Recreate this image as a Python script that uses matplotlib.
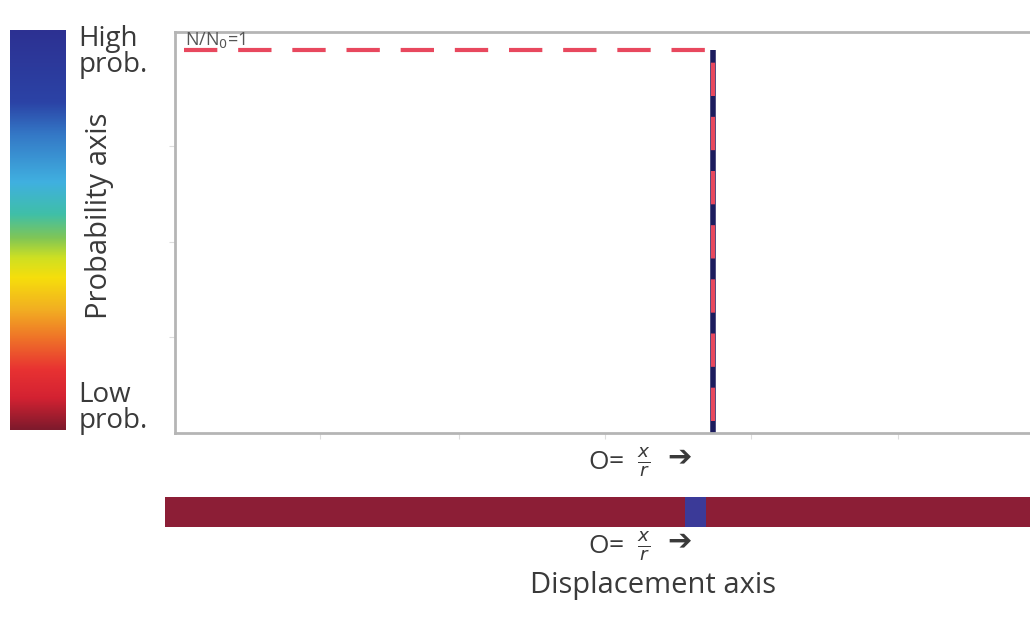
import numpy as np
import matplotlib
matplotlib.use("Agg")
from matplotlib import pyplot as plt
from matplotlib.colors import LinearSegmentedColormap

# displacement grid (fraction of axis) and probability at each bin
n_bins = 40
peak_bin = 24
displacement = (np.arange(n_bins) + 0.5) / n_bins
probability = np.zeros(n_bins)
probability[peak_bin] = 1.0

# delta-like distribution drawn in the main panel
peak_pos = 0.626
line_x = [peak_pos, peak_pos]
line_y = [0.0, 1.0]
ref_x = [0.01, peak_pos, peak_pos]
ref_y = [1.0, 1.0, 0.0]
ref_label = "N/N$_0$=1"

# colour scale, low -> high
cmap_pos = [0.0, 0.08, 0.15, 0.23, 0.30, 0.38, 0.43, 0.48, 0.54, 0.62, 0.74, 0.82, 1.0]
cmap_col = ['#7e1a2c', '#d42232', '#e83232', '#ef7428', '#f2ae22', '#f6de0c', '#cfe022',
            '#80c656', '#3fbfa8', '#40b0e0', '#3478c6', '#2b43a6', '#2d3192']
cmap = LinearSegmentedColormap.from_list('prob', list(zip(cmap_pos, cmap_col)))
bar_cmap = LinearSegmentedColormap.from_list('bar', ['#8c1e36', '#3b3a98'])

plt.rcParams['font.family'] = ['Open Sans', 'DejaVu Sans']
txt = '#3a3a3a'

fig = plt.figure(figsize=(10.3, 6.2), dpi=100)

# colour scale on the left
cax = fig.add_axes([0.0097, 0.306, 0.054, 0.645])
grad = np.linspace(0, 1, 256).reshape(-1, 1)
cax.imshow(grad, cmap=cmap, aspect='auto', origin='lower', extent=[0, 1, 0, 1])
cax.set_axis_off()

fig.text(0.076, 0.960, "High\nprob.", fontsize=20, color=txt, va='top', ha='left', linespacing=0.9)
fig.text(0.076, 0.298, "Low\nprob.", fontsize=20, color=txt, va='bottom', ha='left', linespacing=0.9)
fig.text(0.097, 0.652, "Probability axis", fontsize=21, color=txt, rotation=90, va='center', ha='center')

# main panel
ax = fig.add_axes([0.170, 0.3016, 0.835, 0.646])
ax.plot(line_x, line_y, color='#1c1c5e', lw=4, solid_capstyle='butt')
ax.plot(ref_x, ref_y, color='#e8485e', lw=3, dashes=(8, 5))
ax.text(0.012, 1.0, ref_label, fontsize=13, color='#555555', va='bottom', ha='left')
ax.set_xlim(0, 1)
ax.set_ylim(0, 1.047)
for s in ['top', 'left', 'bottom']:
    ax.spines[s].set_color('#b5b5b5')
    ax.spines[s].set_linewidth(2)
ax.spines['right'].set_visible(False)
ax.set_xticks([0.168, 0.33, 0.50, 0.67, 0.84])
ax.set_yticks([0.25, 0.5, 0.75])
ax.tick_params(colors='#dddddd', length=4, labelbottom=False, labelleft=False)


def axis_label(y):
    fig.text(0.648, y, r"O=  $\frac{x}{r}$   ", fontsize=19, color=txt, ha='right', va='center')
    fig.text(0.648, y + 0.008, "➔", fontsize=21, color=txt, ha='left', va='center',
             family='DejaVu Sans')


axis_label(0.255)

# displacement bar
bax = fig.add_axes([0.160, 0.150, 0.840, 0.048])
bax.imshow(probability.reshape(1, -1), cmap=bar_cmap, aspect='auto', vmin=0, vmax=1,
           extent=[0, 1, 0, 1], interpolation='nearest')
bax.set_axis_off()

axis_label(0.118)
fig.text(0.634, 0.056, "Displacement axis", fontsize=21, color=txt, ha='center', va='center')

fig.savefig("out.png", dpi=100)
